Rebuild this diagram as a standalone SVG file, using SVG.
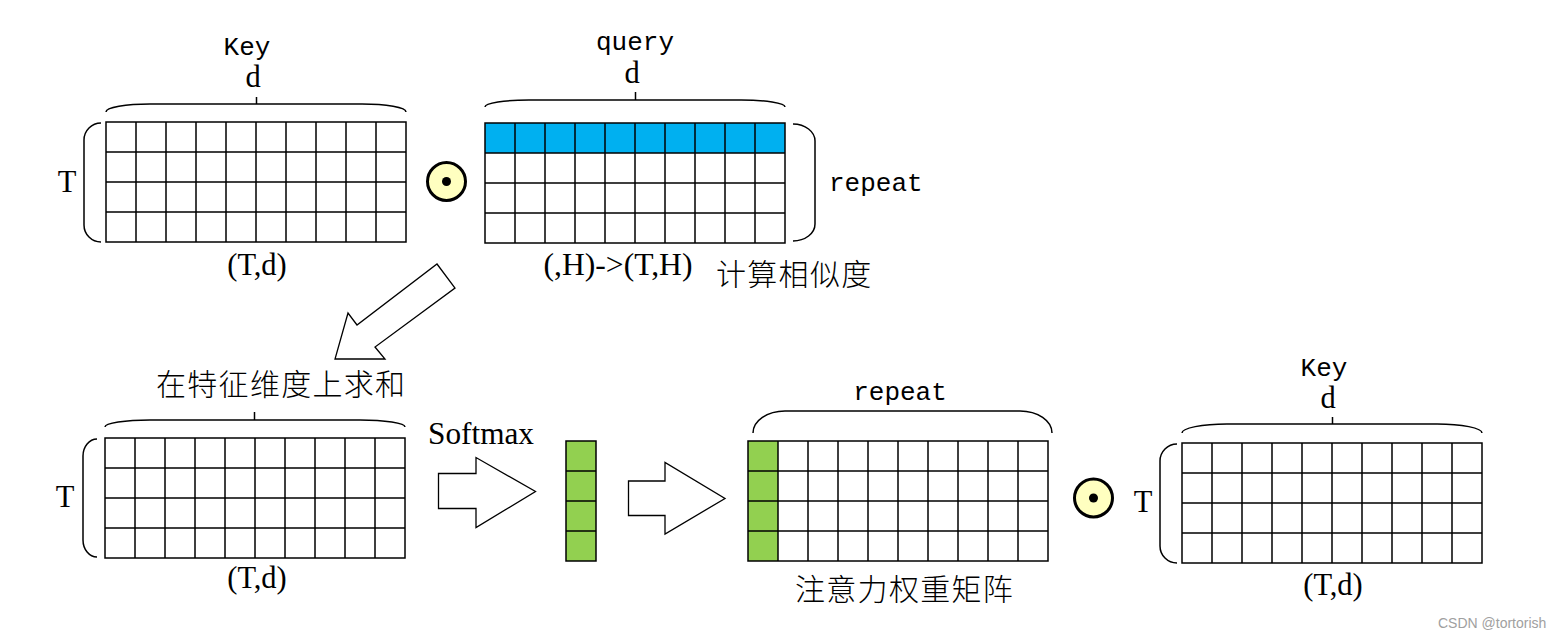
<svg xmlns="http://www.w3.org/2000/svg" xmlns:xlink="http://www.w3.org/1999/xlink" width="1563" height="638" viewBox="0 0 1563 638">
<style>
.ln{fill:none;stroke:#000;stroke-width:1.5}
.ar{fill:#fff;stroke:#000;stroke-width:1.3;stroke-linejoin:miter}
.tm{font-family:"Liberation Serif","Times New Roman",serif;font-size:30.5px;fill:#000}
.mo{font-family:"Liberation Mono","Courier New",monospace;font-size:26px;fill:#000}
.cj{font-family:"Noto Sans CJK SC",sans-serif;font-size:30px;font-weight:300;letter-spacing:1.3px;fill:#000}
.wm{font-family:"Liberation Sans",Arial,sans-serif;font-size:14px;fill:#a0a0a0}
.op{fill:#FFFFC0;stroke:#000;stroke-width:3}
</style>
<defs>
<g id="grid">
<rect x="0" y="0" width="300" height="120" class="ln"/>
<path class="ln" d="M30,0V120M60,0V120M90,0V120M120,0V120M150,0V120M180,0V120M210,0V120M240,0V120M270,0V120M0,30H300M0,60H300M0,90H300"/>
</g>
<g id="odot">
<circle cx="0" cy="0" r="19" class="op"/>
<circle cx="0" cy="0" r="4.5" fill="#000"/>
</g>
</defs>
<rect width="1563" height="638" fill="#fff"/>

<g id="key-top">
<text class="mo" x="247" y="55" text-anchor="middle">Key</text>
<text class="tm" x="253" y="87" text-anchor="middle">d</text>
<path class="ln" d="M106,112 A44 8 0 0 1 150,104 L362,104 A44 8 0 0 1 406,112 M256.5,104 V97"/>
<path class="ln" d="M101,123 A17 17 0 0 0 84,140 L84,225 A17 17 0 0 0 101,242"/>
<text class="tm" x="67" y="192" text-anchor="middle">T</text>
<use xlink:href="#grid" x="106" y="122"/>
<text class="tm" x="257" y="275" text-anchor="middle">(T,d)</text>
</g>

<g id="op-top">
<use xlink:href="#odot" x="446.5" y="181.5"/>
</g>

<g id="query">
<text class="mo" x="635" y="50" text-anchor="middle">query</text>
<text class="tm" x="632" y="83" text-anchor="middle">d</text>
<path class="ln" d="M485,107 A44 7 0 0 1 529,100 L741,100 A44 7 0 0 1 785,107 M635.5,100 V92"/>
<rect x="485" y="123" width="300" height="30" fill="#00B0F0"/>
<use xlink:href="#grid" x="485" y="123"/>
<path class="ln" d="M793,124 A22 17 0 0 1 815,141 L815,224 A22 17 0 0 1 793,241"/>
<text class="mo" x="829" y="191">repeat</text>
<text class="tm" x="618" y="275" text-anchor="middle" textLength="149" lengthAdjust="spacingAndGlyphs">(,H)-&gt;(T,H)</text>
<text class="cj" x="716" y="285">计算相似度</text>
</g>

<g id="connectors">
<polygon class="ar" points="437,264 455,288 375,347 385,359 335,359 348,313 357,325"/>
<polygon class="ar" points="438.5,473.5 476,473.5 476,457.5 535.5,491.5 476,527.5 476,508.5 438.5,508.5"/>
<polygon class="ar" points="628.5,481 665,481 665,462.5 725,498.5 665,534 665,515.5 628.5,515.5"/>
</g>

<g id="sum">
<text class="cj" x="156" y="395">在特征维度上求和</text>
<path class="ln" d="M105,427 A45 7 0 0 1 150,420 L360,420 A45 7 0 0 1 405,427 M254.5,420 V412"/>
<path class="ln" d="M97,439 A14 17 0 0 0 83,456 L83,540 A14 17 0 0 0 97,557"/>
<text class="tm" x="65" y="507" text-anchor="middle">T</text>
<use xlink:href="#grid" x="105" y="438"/>
<text class="tm" x="257" y="588" text-anchor="middle">(T,d)</text>
</g>

<g id="softmax">
<text class="tm" x="428" y="444" textLength="106" lengthAdjust="spacingAndGlyphs">Softmax</text>
</g>

<g id="vector">
<rect x="566" y="441" width="30" height="120" fill="#92D050"/>
<path class="ln" d="M566,441H596V561H566Z M566,471H596M566,501H596M566,531H596"/>
</g>

<g id="weights">
<text class="mo" x="900" y="400" text-anchor="middle">repeat</text>
<path class="ln" d="M753,433 A32 22 0 0 1 785,411 L1020,411 A32 22 0 0 1 1052,433"/>
<rect x="748" y="441" width="30" height="120" fill="#92D050"/>
<use xlink:href="#grid" x="748" y="441"/>
<text class="cj" x="795" y="600">注意力权重矩阵</text>
</g>

<g id="op-bottom">
<use xlink:href="#odot" x="1093.5" y="498"/>
</g>

<g id="key-bottom">
<text class="mo" x="1324" y="376" text-anchor="middle">Key</text>
<text class="tm" x="1328" y="408" text-anchor="middle">d</text>
<path class="ln" d="M1182,433 A45 9 0 0 1 1227,424 L1437,424 A45 9 0 0 1 1482,433 M1332.5,424 V417"/>
<path class="ln" d="M1177,444 A17 17 0 0 0 1160,461 L1160,546 A17 17 0 0 0 1177,563"/>
<text class="tm" x="1143" y="512" text-anchor="middle">T</text>
<use xlink:href="#grid" x="1182" y="443"/>
<text class="tm" x="1333" y="595" text-anchor="middle">(T,d)</text>
</g>

<g id="watermark">
<text class="wm" x="1438" y="628">CSDN @tortorish</text>
</g>
</svg>
